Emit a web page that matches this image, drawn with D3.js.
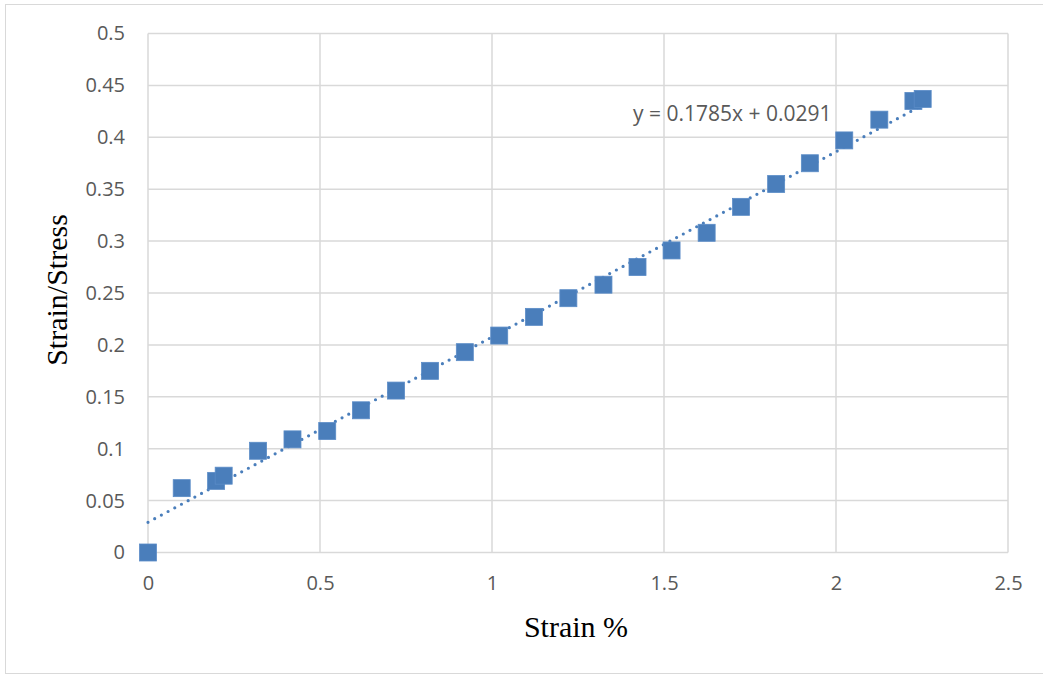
<!DOCTYPE html>
<html>
<head>
<meta charset="utf-8">
<script src="https://cdn.jsdelivr.net/npm/d3@7"></script>
<style>
  html, body { margin: 0; padding: 0; background: #fff; }
  svg { display: block; }
</style>
</head>
<body>
<svg id="chart" width="1043" height="675"></svg>
<script>
// Measured strain (%) and strain/stress ratio
const strain = [0, 0.098, 0.198, 0.22, 0.32, 0.42, 0.521, 0.619, 0.721, 0.82, 0.921, 1.021,
                1.122, 1.222, 1.324, 1.423, 1.522, 1.624, 1.724, 1.826, 1.924, 2.024, 2.126, 2.225, 2.252];
const ratio  = [0, 0.062, 0.069, 0.074, 0.098, 0.109, 0.117, 0.137, 0.156, 0.175, 0.193, 0.209,
                0.227, 0.245, 0.258, 0.275, 0.291, 0.308, 0.333, 0.355, 0.375, 0.397, 0.417, 0.435, 0.437];

// Linear trendline coefficients
const slope = 0.1785;
const intercept = 0.0291;

const xTicks = [0, 0.5, 1, 1.5, 2, 2.5];
const yTicks = [0, 0.05, 0.1, 0.15, 0.2, 0.25, 0.3, 0.35, 0.4, 0.45, 0.5];

const svg = d3.select("#chart");
const W = 1043;
const plot = { left: 148, right: 1008, top: 33.5, bottom: 552.5 };
const blue = "#4A7EBB";
const grid = "#D9D9D9";
const textCol = "#595959";

// Chart frame
svg.append("rect")
  .attr("x", 5.5).attr("y", 4.5)
  .attr("width", W).attr("height", 669)
  .attr("fill", "#fff").attr("stroke", grid).attr("stroke-width", 1);

const x = d3.scaleLinear().domain([0, 2.5]).range([plot.left, plot.right]);
const y = d3.scaleLinear().domain([0, 0.5]).range([plot.bottom, plot.top]);

// Gridlines
svg.append("g").selectAll("line").data(yTicks).join("line")
  .attr("x1", plot.left).attr("x2", plot.right)
  .attr("y1", d => y(d)).attr("y2", d => y(d))
  .attr("stroke", grid).attr("stroke-width", 1.5);
svg.append("g").selectAll("line").data(xTicks).join("line")
  .attr("x1", d => x(d)).attr("x2", d => x(d))
  .attr("y1", plot.top).attr("y2", plot.bottom)
  .attr("stroke", grid).attr("stroke-width", 1.5);

// Axes (labels only, lines come from the grid)
const fontTick = "'Open Sans', 'Liberation Sans', sans-serif";
const yAxis = svg.append("g")
  .attr("transform", `translate(${plot.left - 20},0)`)
  .call(d3.axisLeft(y).tickValues(yTicks).tickSize(0).tickFormat(d3.format("~g")));
yAxis.select(".domain").remove();
yAxis.selectAll("text")
  .attr("fill", textCol).style("font-family", fontTick).style("font-size", "20px");

const xAxis = svg.append("g")
  .attr("transform", `translate(0,${plot.bottom + 20.5})`)
  .call(d3.axisBottom(x).tickValues(xTicks).tickSize(0).tickFormat(d3.format("~g")));
xAxis.select(".domain").remove();
xAxis.selectAll("text")
  .attr("fill", textCol).style("font-family", fontTick).style("font-size", "20px");

// Trendline
const xMax = d3.max(strain);
svg.append("line")
  .attr("x1", x(0)).attr("y1", y(intercept))
  .attr("x2", x(xMax)).attr("y2", y(slope * xMax + intercept))
  .attr("stroke", blue).attr("stroke-width", 3.2)
  .attr("stroke-linecap", "round").attr("stroke-dasharray", "0,7.6");

// Data markers
const s = 17;
svg.append("g").selectAll("rect").data(strain.map((d, i) => [d, ratio[i]])).join("rect")
  .attr("x", d => x(d[0]) - s / 2).attr("y", d => y(d[1]) - s / 2)
  .attr("width", s).attr("height", s)
  .attr("fill", blue).attr("stroke", "#5B8CC7").attr("stroke-width", 0.8);

// Trendline equation
svg.append("text")
  .attr("x", 633).attr("y", 120.5)
  .attr("fill", textCol).style("font-family", fontTick).style("font-size", "21px")
  .text(`y = ${slope}x + ${intercept}`);

// Axis titles
const fontTitle = "'Liberation Serif', 'Times New Roman', serif";
svg.append("text")
  .attr("x", 576).attr("y", 637)
  .attr("text-anchor", "middle")
  .style("font-family", fontTitle).style("font-size", "30px").attr("fill", "#000")
  .text("Strain %");
svg.append("text")
  .attr("transform", `translate(67,290) rotate(-90)`)
  .attr("text-anchor", "middle")
  .style("font-family", fontTitle).style("font-size", "30px").attr("fill", "#000")
  .text("Strain/Stress");
</script>
</body>
</html>
